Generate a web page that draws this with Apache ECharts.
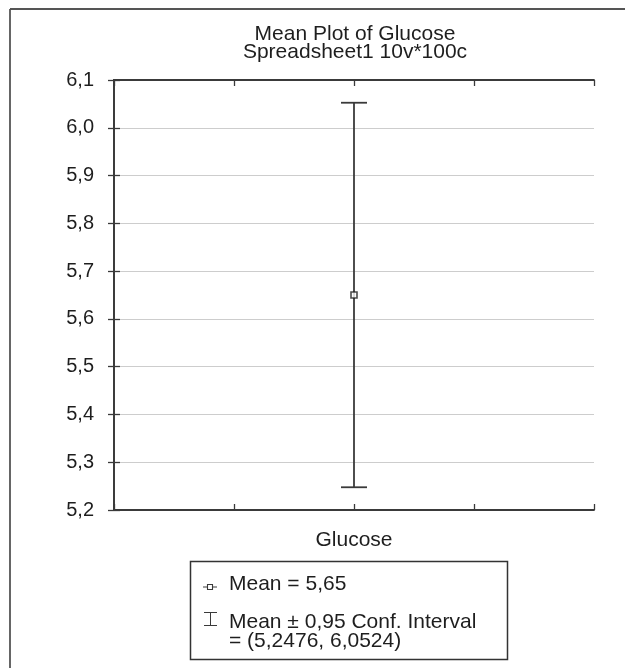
<!DOCTYPE html>
<html>
<head>
<meta charset="utf-8">
<script src="https://cdn.jsdelivr.net/npm/echarts@6/dist/echarts.min.js"></script>
<style>
  html, body { margin: 0; padding: 0; background: #fff; }
  #chart { width: 625px; height: 668px; }
</style>
</head>
<body>
<div id="chart"></div>
<script>
// Mean and 95% confidence interval for a single variable
const categories = ['Glucose'];
const means = [5.65];
const ciLow = [5.2476];
const ciHigh = [6.0524];
const confLevel = 0.95;
const titleLines = ['Mean Plot of Glucose', 'Spreadsheet1 10v*100c'];
const yMin = 5.2, yMax = 6.1, yStep = 0.1;

const FONT = '"Liberation Sans", Arial, Helvetica, sans-serif';
const INK = '#3a3a3a';
const TEXT = '#1e1e1e';
const comma = v => String(v).replace('.', ',');

// category sits in the middle of a 0..4 horizontal range (ticks at quarters)
const xPos = categories.map(() => 2);

const chart = echarts.init(document.getElementById('chart'), null, { renderer: 'canvas' });

const yLabel = v => (Math.round(v * 10) / 10).toFixed(1).replace('.', ',');

const frameAxis = (extra) => Object.assign({
  axisLine: { show: true, lineStyle: { color: INK, width: 1.8 } },
  axisTick: { show: true, inside: true, length: 6, lineStyle: { color: INK, width: 1.3 } },
  axisLabel: { show: false },
  splitLine: { show: false }
}, extra);

const option = {
  animation: false,
  backgroundColor: '#fff',
  grid: { left: 114, right: 31, top: 80, bottom: 158, show: false },
  xAxis: [
    frameAxis({ type: 'value', min: 0, max: 4, interval: 1, position: 'bottom',
      name: categories[0], nameLocation: 'middle', nameGap: 20,
      nameTextStyle: { fontFamily: FONT, fontSize: 21, color: TEXT } }),
    frameAxis({ type: 'value', min: 0, max: 4, interval: 1, position: 'top' })
  ],
  yAxis: [
    frameAxis({ type: 'value', min: yMin, max: yMax, interval: yStep, position: 'left',
      axisLabel: { show: true, fontFamily: FONT, fontSize: 20, color: TEXT, margin: 20, formatter: yLabel },
      splitLine: { show: true, lineStyle: { color: '#cdcdcd', width: 1.2 } } }),
    frameAxis({ type: 'value', min: yMin, max: yMax, interval: yStep, position: 'right' })
  ],
  series: [
    {
      type: 'custom',
      xAxisIndex: 0, yAxisIndex: 0,
      data: xPos.map((x, i) => [x, ciLow[i], ciHigh[i]]),
      renderItem: (params, api) => {
        const x = api.value(0);
        const lo = api.coord([x, api.value(1)]);
        const hi = api.coord([x, api.value(2)]);
        const half = 13;
        const style = { stroke: INK, lineWidth: 1.8, fill: null };
        return {
          type: 'group',
          children: [
            { type: 'line', shape: { x1: lo[0], y1: lo[1], x2: hi[0], y2: hi[1] }, style },
            { type: 'line', shape: { x1: hi[0] - half, y1: hi[1], x2: hi[0] + half, y2: hi[1] }, style },
            { type: 'line', shape: { x1: lo[0] - half, y1: lo[1], x2: lo[0] + half, y2: lo[1] }, style }
          ]
        };
      },
      z: 3
    },
    {
      type: 'scatter',
      xAxisIndex: 0, yAxisIndex: 0,
      data: xPos.map((x, i) => [x, means[i]]),
      symbol: 'rect', symbolSize: 6,
      itemStyle: { color: '#fff', borderColor: '#1e1e1e', borderWidth: 1.6 },
      z: 4
    }
  ],
  graphic: [
    // outer frame edges
    { type: 'line', shape: { x1: 10, y1: 9, x2: 625, y2: 9 }, style: { stroke: '#555', lineWidth: 1.8 } },
    { type: 'line', shape: { x1: 10, y1: 9, x2: 10, y2: 668 }, style: { stroke: '#555', lineWidth: 1.8 } },
    // title
    { type: 'text', style: { x: 355, y: 34, text: titleLines[0], font: '21px ' + FONT,
      fill: TEXT, align: 'center', verticalAlign: 'middle' } },
    { type: 'text', style: { x: 355, y: 52, text: titleLines[1], font: '21px ' + FONT,
      fill: TEXT, align: 'center', verticalAlign: 'middle' } },
    // legend box
    { type: 'rect', shape: { x: 190.5, y: 561.5, width: 317, height: 98 },
      style: { fill: '#fff', stroke: '#333', lineWidth: 1.5 } },
    // mean icon: small square on a short line
    { type: 'line', shape: { x1: 203, y1: 587, x2: 217, y2: 587 }, style: { stroke: INK, lineWidth: 1 } },
    { type: 'rect', shape: { x: 207.5, y: 584.5, width: 5, height: 5 }, style: { fill: '#fff', stroke: INK, lineWidth: 1.1 } },
    { type: 'text', style: { x: 229, y: 584, text: 'Mean = ' + comma(means[0]),
      font: '21px ' + FONT, fill: TEXT, verticalAlign: 'middle' } },
    // interval icon
    { type: 'line', shape: { x1: 204, y1: 612.5, x2: 217, y2: 612.5 }, style: { stroke: INK, lineWidth: 1 } },
    { type: 'line', shape: { x1: 204, y1: 625.5, x2: 217, y2: 625.5 }, style: { stroke: INK, lineWidth: 1 } },
    { type: 'line', shape: { x1: 210.5, y1: 612.5, x2: 210.5, y2: 625.5 }, style: { stroke: INK, lineWidth: 1 } },
    { type: 'text', style: { x: 229, y: 622, text: 'Mean \u00b1 ' + comma(confLevel) + ' Conf. Interval',
      font: '21px ' + FONT, fill: TEXT, verticalAlign: 'middle' } },
    { type: 'text', style: { x: 229, y: 641, text: '= (' + comma(ciLow[0]) + ', ' + comma(ciHigh[0]) + ')',
      font: '21px ' + FONT, fill: TEXT, verticalAlign: 'middle' } }
  ]
};

chart.setOption(option);
</script>
</body>
</html>
